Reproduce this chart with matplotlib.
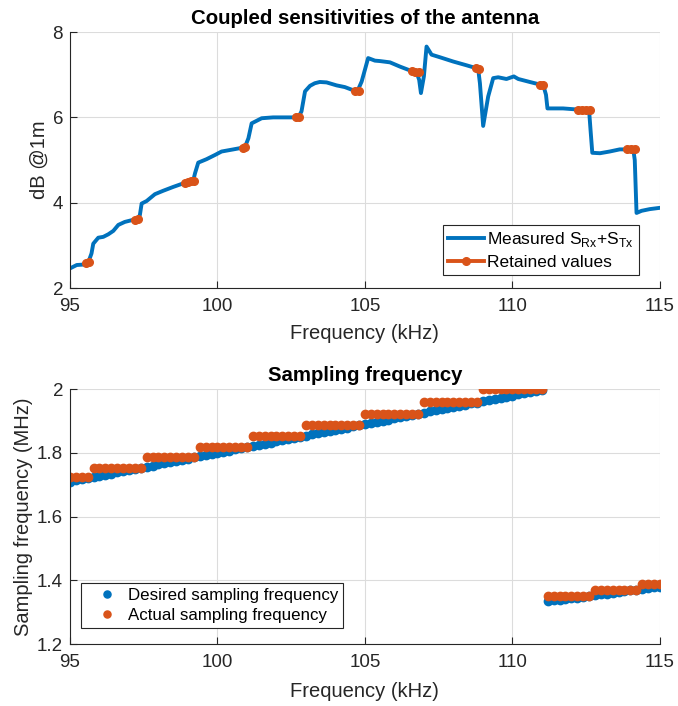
import numpy as np
import matplotlib
matplotlib.use('Agg')
import matplotlib.pyplot as plt

plt.rcParams['font.family'] = ['Liberation Sans', 'DejaVu Sans']
plt.rcParams['mathtext.fontset'] = 'custom'
plt.rcParams['mathtext.rm'] = 'Liberation Sans'

BLUE = '#0072BD'
ORANGE = '#D95319'
DARK = '#262626'

# measured coupled sensitivity (top panel)
meas_f = [95.0, 95.23, 95.45, 95.62, 95.73, 95.79, 95.96, 96.13, 96.30, 96.47,
          96.64, 96.86, 97.09, 97.28, 97.37, 97.43, 97.60, 97.88, 98.16, 98.50,
          98.95, 99.18, 99.24, 99.35, 99.63, 99.92, 100.14, 100.54, 100.93, 101.05,
          101.16, 101.33, 101.50, 101.89, 102.57, 102.74, 102.85, 102.97, 103.14, 103.30,
          103.47, 103.70, 104.04, 104.32, 104.55, 104.75, 104.89, 105.11, 105.34, 105.51,
          105.85, 106.19, 106.53, 106.75, 106.84, 106.90, 107.00, 107.09, 107.26, 107.54,
          107.99, 108.45, 108.84, 108.90, 109.01, 109.18, 109.35, 109.52, 109.80, 110.05,
          110.20, 110.59, 111.05, 111.14, 111.19, 111.38, 111.72, 112.29, 112.60, 112.65,
          112.71, 112.97, 113.30, 113.64, 114.10, 114.15, 114.21, 114.38, 114.66, 115.0]
meas_db = [2.46, 2.54, 2.55, 2.60, 2.81, 3.04, 3.18, 3.20, 3.26, 3.34,
           3.48, 3.55, 3.59, 3.61, 3.71, 3.98, 4.04, 4.20, 4.28, 4.37,
           4.48, 4.52, 4.69, 4.94, 5.02, 5.12, 5.20, 5.25, 5.30, 5.51,
           5.86, 5.92, 5.98, 6.00, 6.00, 6.00, 6.14, 6.61, 6.74, 6.80,
           6.83, 6.82, 6.75, 6.71, 6.65, 6.62, 6.84, 7.39, 7.33, 7.32,
           7.29, 7.19, 7.10, 7.06, 6.88, 6.57, 6.96, 7.66, 7.47, 7.41,
           7.31, 7.22, 7.14, 6.80, 5.80, 6.49, 6.92, 6.94, 6.90, 6.96,
           6.90, 6.83, 6.75, 6.53, 6.21, 6.21, 6.21, 6.18, 6.18, 5.71,
           5.17, 5.16, 5.20, 5.25, 5.25, 5.00, 3.76, 3.81, 3.85, 3.88]

# retained values, segments separated by NaN
ret_f = [95.55, 95.65, np.nan, 97.22, 97.30, np.nan,
         98.90, 99.00, 99.10, 99.20, np.nan, 100.85, 100.95, np.nan,
         102.68, 102.78, np.nan, 104.68, 104.80, np.nan,
         106.60, 106.70, 106.82, np.nan, 108.78, 108.88, np.nan,
         110.95, 111.05, np.nan, 112.22, 112.35, 112.50, 112.64, np.nan,
         113.90, 114.02, 114.15]
ret_db = [2.59, 2.61, np.nan, 3.60, 3.61, np.nan,
          4.47, 4.48, 4.50, 4.51, np.nan, 5.29, 5.30, np.nan,
          6.00, 6.00, np.nan, 6.62, 6.62, np.nan,
          7.08, 7.07, 7.06, np.nan, 7.15, 7.14, np.nan,
          6.76, 6.75, np.nan, 6.18, 6.18, 6.18, 6.18, np.nan,
          5.25, 5.25, 5.26]

# sampling frequency sweep (bottom panel)
sweep_f = [95.0, 95.2, 95.4, 95.6, 95.8, 96.0, 96.2, 96.4, 96.6, 96.8,
           97.0, 97.2, 97.4, 97.6, 97.8, 98.0, 98.2, 98.4, 98.6, 98.8,
           99.0, 99.2, 99.4, 99.6, 99.8, 100.0, 100.2, 100.4, 100.6, 100.8,
           101.0, 101.2, 101.4, 101.6, 101.8, 102.0, 102.2, 102.4, 102.6, 102.8,
           103.0, 103.2, 103.4, 103.6, 103.8, 104.0, 104.2, 104.4, 104.6, 104.8,
           105.0, 105.2, 105.4, 105.6, 105.8, 106.0, 106.2, 106.4, 106.6, 106.8,
           107.0, 107.2, 107.4, 107.6, 107.8, 108.0, 108.2, 108.4, 108.6, 108.8,
           109.0, 109.2, 109.4, 109.6, 109.8, 110.0, 110.2, 110.4, 110.6, 110.8,
           111.0, 111.2, 111.4, 111.6, 111.8, 112.0, 112.2, 112.4, 112.6, 112.8,
           113.0, 113.2, 113.4, 113.6, 113.8, 114.0, 114.2, 114.4, 114.6, 114.8,
           115.0]
desired_fs = [1.710, 1.714, 1.717, 1.721, 1.724, 1.728, 1.732, 1.735, 1.739, 1.742,
              1.746, 1.750, 1.753, 1.757, 1.760, 1.764, 1.768, 1.771, 1.775, 1.778,
              1.782, 1.786, 1.789, 1.793, 1.796, 1.800, 1.804, 1.807, 1.811, 1.814,
              1.818, 1.822, 1.825, 1.829, 1.832, 1.836, 1.840, 1.843, 1.847, 1.850,
              1.854, 1.858, 1.861, 1.865, 1.868, 1.872, 1.876, 1.879, 1.883, 1.886,
              1.890, 1.894, 1.897, 1.901, 1.904, 1.908, 1.912, 1.915, 1.919, 1.922,
              1.926, 1.930, 1.933, 1.937, 1.940, 1.944, 1.948, 1.951, 1.955, 1.958,
              1.962, 1.966, 1.969, 1.973, 1.976, 1.980, 1.984, 1.987, 1.991, 1.994,
              1.998, 1.334, 1.337, 1.339, 1.342, 1.344, 1.346, 1.349, 1.351, 1.354,
              1.356, 1.358, 1.361, 1.363, 1.366, 1.368, 1.370, 1.373, 1.375, 1.378,
              1.380]
actual_fs = [1.724, 1.724, 1.724, 1.724, 1.754, 1.754, 1.754, 1.754, 1.754, 1.754,
             1.754, 1.754, 1.754, 1.786, 1.786, 1.786, 1.786, 1.786, 1.786, 1.786,
             1.786, 1.786, 1.818, 1.818, 1.818, 1.818, 1.818, 1.818, 1.818, 1.818,
             1.818, 1.852, 1.852, 1.852, 1.852, 1.852, 1.852, 1.852, 1.852, 1.852,
             1.887, 1.887, 1.887, 1.887, 1.887, 1.887, 1.887, 1.887, 1.887, 1.887,
             1.923, 1.923, 1.923, 1.923, 1.923, 1.923, 1.923, 1.923, 1.923, 1.923,
             1.961, 1.961, 1.961, 1.961, 1.961, 1.961, 1.961, 1.961, 1.961, 1.961,
             2.000, 2.000, 2.000, 2.000, 2.000, 2.000, 2.000, 2.000, 2.000, 2.000,
             2.000, 1.351, 1.351, 1.351, 1.351, 1.351, 1.351, 1.351, 1.351, 1.370,
             1.370, 1.370, 1.370, 1.370, 1.370, 1.370, 1.370, 1.389, 1.389, 1.389,
             1.389]

x_ticks = [95, 100, 105, 110, 115]


def style_axes(ax):
    for side in ['top', 'right']:
        ax.spines[side].set_visible(False)
    for side in ['left', 'bottom']:
        ax.spines[side].set_color(DARK)
        ax.spines[side].set_linewidth(0.8)
    ax.tick_params(direction='in', length=5, width=0.8, colors=DARK,
                   labelsize=13.5)
    ax.tick_params(axis='x', pad=7)
    ax.tick_params(axis='y', pad=5)
    ax.grid(True, color='#dcdcdc', linewidth=0.8)
    ax.set_axisbelow(True)
    ax.set_xlim(95, 115)
    ax.set_xticks(x_ticks)


fig = plt.figure(figsize=(6.78, 7.06), dpi=100)

# top: coupled sensitivities
ax1 = fig.add_axes([0.1032, 0.592, 0.870, 0.3626])
style_axes(ax1)
ax1.plot(meas_f, meas_db, color=BLUE, lw=2.8,
         label='Measured S$_{\\mathrm{Rx}}$+S$_{\\mathrm{Tx}}$')
ax1.plot(ret_f, ret_db, color=ORANGE, lw=2.8, marker='o', ms=5.5,
         label='Retained values')
ax1.set_ylim(2, 8)
ax1.set_yticks([2, 4, 6, 8])
ax1.set_xlabel('Frequency (kHz)', fontsize=14.5, color=DARK, labelpad=7)
ax1.set_ylabel('dB @1m', fontsize=14.5, color=DARK, labelpad=3)
ax1.set_title('Coupled sensitivities of the antenna', fontsize=14.7,
              fontweight='bold', pad=6)
leg1 = ax1.legend(loc='lower right', bbox_to_anchor=(0.964, 0.051),
                  borderaxespad=0, fontsize=12.5, fancybox=False,
                  framealpha=1, edgecolor=DARK, handlelength=2.1,
                  handletextpad=0.15, borderpad=0.3, labelspacing=0.3)
leg1.get_frame().set_linewidth(0.8)

# bottom: sampling frequency
ax2 = fig.add_axes([0.1032, 0.0878, 0.870, 0.361])
style_axes(ax2)
ax2.plot(sweep_f, desired_fs, linestyle='none', marker='o', ms=6.0,
         color=BLUE, label='Desired sampling frequency')
ax2.plot(sweep_f, actual_fs, linestyle='none', marker='o', ms=6.0,
         color=ORANGE, label='Actual sampling frequency')
ax2.set_ylim(1.2, 2.0)
ax2.set_yticks([1.2, 1.4, 1.6, 1.8, 2.0])
ax2.set_yticklabels(['1.2', '1.4', '1.6', '1.8', '2'])
ax2.set_xlabel('Frequency (kHz)', fontsize=14.5, color=DARK, labelpad=8)
ax2.set_ylabel('Sampling frequency (MHz)', fontsize=14.5, color=DARK, labelpad=3)
ax2.set_title('Sampling frequency', fontsize=14.7, fontweight='bold', pad=6)
leg2 = ax2.legend(loc='lower left', bbox_to_anchor=(0.019, 0.063),
                  borderaxespad=0, fontsize=12.2, fancybox=False,
                  framealpha=1, edgecolor=DARK, handlelength=2.4,
                  handletextpad=0.05, borderpad=0.3, labelspacing=0.3,
                  markerscale=0.85)
leg2.get_frame().set_linewidth(0.8)

fig.savefig('out.png', dpi=100)
